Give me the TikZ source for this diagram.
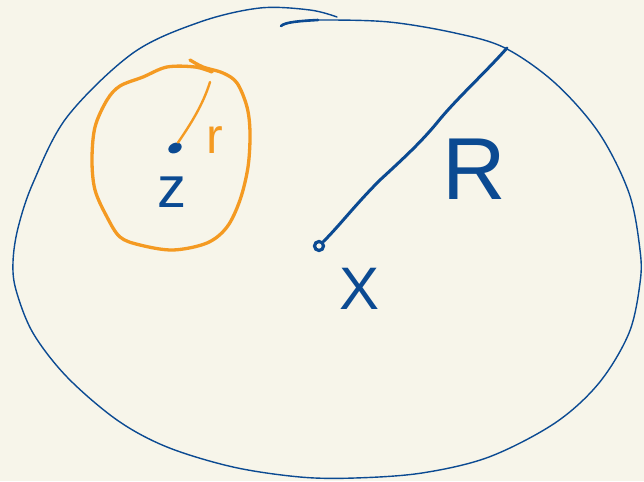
\documentclass[tikz,border=0pt]{standalone}
\usepackage{fontspec}
\usetikzlibrary{shapes.geometric}
\setmainfont{Liberation Sans}
\definecolor{paper}{HTML}{F7F5EA}
\definecolor{inkblue}{HTML}{0B4A92}
\definecolor{inkorange}{HTML}{F49A22}
\tikzset{
  bigline/.style={draw=inkblue, line width=1.4pt, line cap=round, line join=round},
  radline/.style={draw=inkblue, line width=3pt, line cap=round, line join=round},
  orangeline/.style={draw=inkorange, line width=3.3pt, line cap=round, line join=round},
  bluelabel/.style={text=inkblue, inner sep=0pt, anchor=center},
  orangelabel/.style={text=inkorange, inner sep=0pt, anchor=center},
}
\begin{document}
\begin{tikzpicture}[x=1pt,y=-1pt]
\fill[paper] (0,0) rectangle (644,481);
\useasboundingbox (0,0) rectangle (644,481);
% big outer curve
\draw[bigline] plot[smooth, tension=0.55] coordinates {
 (281,26) (293,22) (322,20) (389,22) (455,33) (505,48) (555,83) (599,133)
 (629,193) (640,250) (640,283) (629,333) (599,383) (555,423) (489,457)
 (422,473) (355,478) (300,477) (233,467) (167,447) (117,420) (67,377)
 (33,333) (16,290) (13,262) (18,228) (33,183) (67,117) (133,53) (200,22) (260,8)
 (310,10) (337,17)};
\draw[inkblue, line width=2.6pt, line cap=round] (281,26) .. controls (285,22) and (300,21) .. (318,20);
% centre X
\node[circle, draw=inkblue, line width=3.2pt, minimum size=9pt, inner sep=0pt] (xc) at (319,246) {};
\coordinate (rend) at (507,48);
\draw[radline] (xc) .. controls (340,225) and (355,205) .. (380,180)
  .. controls (405,157) and (420,143) .. (436,124)
  .. controls (455,100) and (485,73) .. (rend);
\node[bluelabel, font=\fontsize{88}{88}\selectfont] (Rl) at (474,169) {R};
\node[bluelabel, font=\fontsize{60}{60}\selectfont] (Xl) at (360,289) {X};
% orange circle
\draw[orangeline] plot[smooth, tension=0.55] coordinates {
 (190,60) (203,67) (223,73) (237,83) (247,107) (250,133) (248,167) (240,200)
 (227,227) (207,243) (173,250) (140,245) (120,237) (107,217) (95,190)
 (92,160) (95,127) (107,100) (120,86) (143,77) (167,67) (195,67) (212,72)};
% centre z
\node[ellipse, fill=inkblue, minimum width=14pt, minimum height=10pt, inner sep=0pt, rotate=25] (zc) at (175,148) {};
\coordinate (rtip) at (210,82);
\draw[inkorange, line width=2.4pt, line cap=round] (zc.north east) .. controls (190,125) and (203,105) .. (rtip);
\node[bluelabel, font=\fontsize{58}{58}\selectfont] (zl) at (172,192) {z};
\node[orangelabel, font=\fontsize{50}{50}\selectfont] (rl) at (215,140) {r};
\end{tikzpicture}
\end{document}
